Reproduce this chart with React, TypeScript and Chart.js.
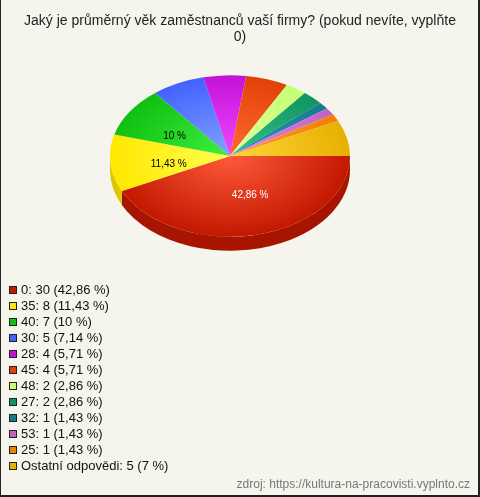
import React, { useEffect, useRef } from 'react';
import { Chart, registerables } from 'chart.js';

Chart.register(...registerables);

const TITLE_LINES = [
  'Jaký je průměrný věk zaměstnanců vaší firmy? (pokud nevíte, vyplňte',
  '0)',
];
const SOURCE = 'zdroj: https://kultura-na-pracovisti.vyplnto.cz';

const labels = ['0', '35', '40', '30', '28', '45', '48', '27', '32', '53', '25', 'Ostatní odpovědi'];
const values = [30, 8, 7, 5, 4, 4, 2, 2, 1, 1, 1, 5];
const percents = ['42,86', '11,43', '10', '7,14', '5,71', '5,71', '2,86', '2,86', '1,43', '1,43', '1,43', '7'];

const edgeColors = [
  '#c21800', '#ffe800', '#10c010', '#4262ff', '#c412d8', '#e24208',
  '#c4ff72', '#109462', '#1a7890', '#c462c4', '#f08000', '#e8b000',
];
const centerColors = [
  '#ff5a3a', '#ffff50', '#40f040', '#82a2ff', '#f048ff', '#ff6a30',
  '#e0ffa0', '#30c488', '#3094b4', '#e484e4', '#ffa030', '#ffd43a',
];

const TILT = 0.6725;
const DEPTH = 14;
const LABEL_MIN_PCT = 10;

function darken(hex: string, f: number): string {
  const n = parseInt(hex.slice(1), 16);
  const r = Math.round(((n >> 16) & 255) * f);
  const g = Math.round(((n >> 8) & 255) * f);
  const b = Math.round((n & 255) * f);
  return `rgb(${r},${g},${b})`;
}

function luminance(hex: string): number {
  const n = parseInt(hex.slice(1), 16);
  return 0.299 * ((n >> 16) & 255) + 0.587 * ((n >> 8) & 255) + 0.114 * (n & 255);
}

const pie3d = {
  id: 'pie3d',
  beforeDatasetsDraw(chart: any) {
    const arcs = chart.getDatasetMeta(0).data;
    const ctx = chart.ctx as CanvasRenderingContext2D;
    ctx.save();
    if (!arcs.length) return;
    const cx = arcs[0].x;
    const cy = arcs[0].y;
    ctx.translate(cx, cy);
    ctx.scale(1, TILT);
    ctx.translate(-cx, -cy);
    const D = DEPTH / TILT;
    arcs.forEach((a: any, i: number) => {
      const r = a.outerRadius;
      for (const shift of [0, 2 * Math.PI]) {
        const s = Math.max(a.startAngle - shift, 0);
        const e = Math.min(a.endAngle - shift, Math.PI);
        if (e <= s) continue;
        ctx.beginPath();
        ctx.arc(cx, cy, r, s, e);
        ctx.arc(cx, cy + D, r, e, s, true);
        ctx.closePath();
        ctx.fillStyle = darken(edgeColors[i], 0.86);
        ctx.fill();
      }
    });
  },
  afterDatasetsDraw(chart: any) {
    const ctx = chart.ctx as CanvasRenderingContext2D;
    ctx.restore();
    const arcs = chart.getDatasetMeta(0).data;
    const total = values.reduce((s, v) => s + v, 0);
    ctx.save();
    ctx.font = '10px "Liberation Sans", Arial, sans-serif';
    ctx.textAlign = 'center';
    ctx.textBaseline = 'middle';
    arcs.forEach((a: any, i: number) => {
      if ((values[i] / total) * 100 < LABEL_MIN_PCT) return;
      const mid = (a.startAngle + a.endAngle) / 2 - (6 * Math.PI) / 180;
      const rr = a.outerRadius * 0.52;
      const x = a.x + rr * Math.cos(mid);
      const y = a.y + rr * Math.sin(mid) * TILT;
      ctx.fillStyle = luminance(edgeColors[i]) < 110 ? '#ffffff' : '#000000';
      ctx.fillText(`${percents[i]} %`, x, y);
    });
    ctx.restore();
  },
};

const FONT = '"Liberation Sans", Arial, Helvetica, sans-serif';

export default function App() {
  const ref = useRef<HTMLCanvasElement>(null);

  useEffect(() => {
    const canvas = ref.current;
    if (!canvas) return;
    const chart = new Chart(canvas, {
      type: 'pie',
      data: {
        labels,
        datasets: [
          {
            data: values,
            backgroundColor: (c: any) => {
              const i = c.dataIndex;
              const ca = c.chart.chartArea;
              if (!ca || i === undefined) return edgeColors[i ?? 0];
              const cx = (ca.left + ca.right) / 2;
              const cy = (ca.top + ca.bottom) / 2;
              const r = Math.min(ca.width, ca.height) / 2;
              const g = c.chart.ctx.createRadialGradient(cx, cy, 0, cx, cy, r);
              g.addColorStop(0, centerColors[i]);
              g.addColorStop(1, edgeColors[i]);
              return g;
            },
            borderWidth: 0,
            hoverOffset: 0,
            offset: 0,
          } as any,
        ],
      },
      options: {
        responsive: false,
        animation: false,
        events: [],
        rotation: 90,
        layout: { padding: { left: 110, right: 130, top: 36, bottom: 221 } },
        plugins: {
          legend: { display: false },
          tooltip: { enabled: false },
          title: { display: false },
        },
      } as any,
      plugins: [pie3d],
    });
    return () => chart.destroy();
  }, []);

  return (
    <div
      style={{
        position: 'absolute',
        left: 0,
        top: 0,
        width: 480,
        height: 497,
        background: '#f5f4ed',
        overflow: 'hidden',
        fontFamily: FONT,
      }}
    >
      <canvas ref={ref} width={480} height={497} style={{ position: 'absolute', left: 0, top: 0 }} />
      <div
        style={{
          position: 'absolute',
          left: 0,
          top: 12,
          width: 480,
          textAlign: 'center',
          fontSize: 14,
          lineHeight: '16px',
          color: '#222',
        }}
      >
        {TITLE_LINES.map((l, i) => (
          <div key={i}>{l}</div>
        ))}
      </div>
      <div style={{ position: 'absolute', left: 9, top: 282, fontSize: 13, color: '#111' }}>
        {labels.map((l, i) => (
          <div key={i} style={{ height: 16, lineHeight: '16px', display: 'flex', alignItems: 'center', whiteSpace: 'nowrap' }}>
            <span
              style={{
                display: 'inline-block',
                width: 8,
                height: 8,
                boxSizing: 'border-box',
                border: '1px solid #222',
                background: edgeColors[i],
                marginRight: 4,
              }}
            />
            <span>{`${l}: ${values[i]} (${percents[i]} %)`}</span>
          </div>
        ))}
      </div>
      <div
        style={{
          position: 'absolute',
          right: 10,
          top: 476,
          fontSize: 12,
          lineHeight: '16px',
          color: '#777',
          whiteSpace: 'nowrap',
        }}
      >
        {SOURCE}
      </div>
      <div
        style={{
          position: 'absolute',
          left: 0,
          top: 0,
          width: 480,
          height: 497,
          boxSizing: 'border-box',
          borderLeft: '1px solid #222',
          borderRight: '2px solid #222',
          borderBottom: '2px solid #222',
          pointerEvents: 'none',
        }}
      />
    </div>
  );
}
